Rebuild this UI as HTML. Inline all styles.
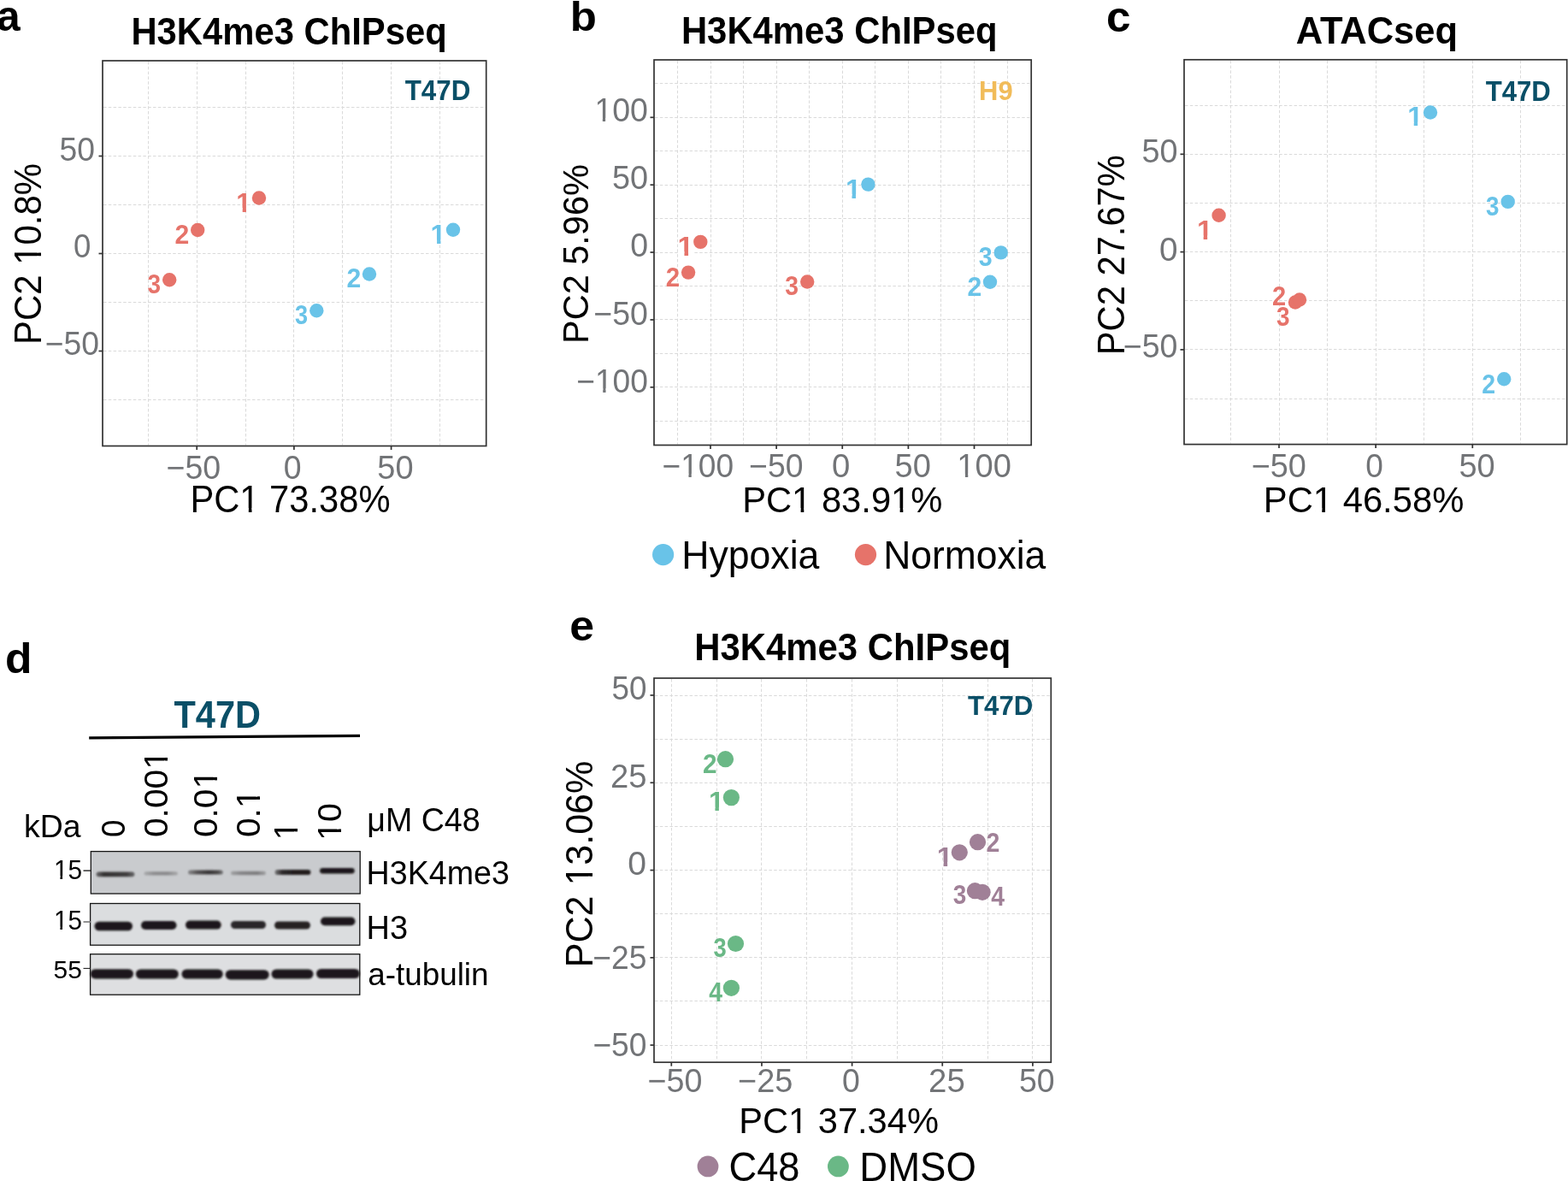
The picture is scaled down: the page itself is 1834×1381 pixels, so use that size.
<!DOCTYPE html><html><head><meta charset="utf-8"><title>Figure</title><style>html,body{margin:0;padding:0;background:#fff;overflow:hidden;}svg{display:block;}text{font-family:"Liberation Sans", Arial, Helvetica, sans-serif;}.g{stroke:#DADADA;stroke-width:1;stroke-dasharray:3.5 2.3;fill:none;}.fr{fill:none;stroke:#333333;stroke-width:1.7;}.tk{stroke:#333333;stroke-width:1.7;}</style></head><body>
<svg width="1834" height="1381" viewBox="0 0 1834 1381">
<rect width="1834" height="1381" fill="#fff"/>
<defs><filter id="bl" x="-20%" y="-100%" width="140%" height="300%"><feGaussianBlur stdDeviation="1.6"/></filter><filter id="bl2" x="-20%" y="-100%" width="140%" height="300%"><feGaussianBlur stdDeviation="1.2"/></filter><filter id="bl3" x="-20%" y="-100%" width="140%" height="300%"><feGaussianBlur stdDeviation="0.8"/></filter></defs>
<line x1="173.5" y1="72" x2="173.5" y2="520.5" class="g"/>
<line x1="230.5" y1="72" x2="230.5" y2="520.5" class="g"/>
<line x1="287.5" y1="72" x2="287.5" y2="520.5" class="g"/>
<line x1="343.5" y1="72" x2="343.5" y2="520.5" class="g"/>
<line x1="400.5" y1="72" x2="400.5" y2="520.5" class="g"/>
<line x1="457.5" y1="72" x2="457.5" y2="520.5" class="g"/>
<line x1="514.5" y1="72" x2="514.5" y2="520.5" class="g"/>
<line x1="121" y1="467.5" x2="567.7" y2="467.5" class="g"/>
<line x1="121" y1="410.5" x2="567.7" y2="410.5" class="g"/>
<line x1="121" y1="353.5" x2="567.7" y2="353.5" class="g"/>
<line x1="121" y1="296.5" x2="567.7" y2="296.5" class="g"/>
<line x1="121" y1="239.5" x2="567.7" y2="239.5" class="g"/>
<line x1="121" y1="182.5" x2="567.7" y2="182.5" class="g"/>
<line x1="121" y1="125.5" x2="567.7" y2="125.5" class="g"/>
<rect x="120" y="71" width="448.7" height="450.5" class="fr"/>
<line x1="230.22" y1="521.5" x2="230.22" y2="526" class="tk"/>
<line x1="343.9" y1="521.5" x2="343.9" y2="526" class="tk"/>
<line x1="457.57" y1="521.5" x2="457.57" y2="526" class="tk"/>
<line x1="115.5" y1="182.5" x2="120" y2="182.5" class="tk"/>
<line x1="115.5" y1="296.5" x2="120" y2="296.5" class="tk"/>
<line x1="115.5" y1="410.5" x2="120" y2="410.5" class="tk"/>
<line x1="792.5" y1="71" x2="792.5" y2="519.5" class="g"/>
<line x1="831.5" y1="71" x2="831.5" y2="519.5" class="g"/>
<line x1="869.5" y1="71" x2="869.5" y2="519.5" class="g"/>
<line x1="908.5" y1="71" x2="908.5" y2="519.5" class="g"/>
<line x1="946.5" y1="71" x2="946.5" y2="519.5" class="g"/>
<line x1="985.5" y1="71" x2="985.5" y2="519.5" class="g"/>
<line x1="1023.5" y1="71" x2="1023.5" y2="519.5" class="g"/>
<line x1="1062.5" y1="71" x2="1062.5" y2="519.5" class="g"/>
<line x1="1100.5" y1="71" x2="1100.5" y2="519.5" class="g"/>
<line x1="1139.5" y1="71" x2="1139.5" y2="519.5" class="g"/>
<line x1="1178.5" y1="71" x2="1178.5" y2="519.5" class="g"/>
<line x1="766" y1="492.5" x2="1205.2" y2="492.5" class="g"/>
<line x1="766" y1="452.5" x2="1205.2" y2="452.5" class="g"/>
<line x1="766" y1="413.5" x2="1205.2" y2="413.5" class="g"/>
<line x1="766" y1="373.5" x2="1205.2" y2="373.5" class="g"/>
<line x1="766" y1="334.5" x2="1205.2" y2="334.5" class="g"/>
<line x1="766" y1="295.5" x2="1205.2" y2="295.5" class="g"/>
<line x1="766" y1="255.5" x2="1205.2" y2="255.5" class="g"/>
<line x1="766" y1="216.5" x2="1205.2" y2="216.5" class="g"/>
<line x1="766" y1="176.5" x2="1205.2" y2="176.5" class="g"/>
<line x1="766" y1="137.5" x2="1205.2" y2="137.5" class="g"/>
<line x1="766" y1="97.5" x2="1205.2" y2="97.5" class="g"/>
<rect x="765" y="70" width="441.2" height="450.5" class="fr"/>
<line x1="831" y1="520.5" x2="831" y2="525" class="tk"/>
<line x1="908.12" y1="520.5" x2="908.12" y2="525" class="tk"/>
<line x1="985.25" y1="520.5" x2="985.25" y2="525" class="tk"/>
<line x1="1062.38" y1="520.5" x2="1062.38" y2="525" class="tk"/>
<line x1="1139.5" y1="520.5" x2="1139.5" y2="525" class="tk"/>
<line x1="760.5" y1="137.3" x2="765" y2="137.3" class="tk"/>
<line x1="760.5" y1="216.18" x2="765" y2="216.18" class="tk"/>
<line x1="760.5" y1="295.05" x2="765" y2="295.05" class="tk"/>
<line x1="760.5" y1="373.93" x2="765" y2="373.93" class="tk"/>
<line x1="760.5" y1="452.8" x2="765" y2="452.8" class="tk"/>
<line x1="1439.5" y1="70.8" x2="1439.5" y2="518.6" class="g"/>
<line x1="1496.5" y1="70.8" x2="1496.5" y2="518.6" class="g"/>
<line x1="1552.5" y1="70.8" x2="1552.5" y2="518.6" class="g"/>
<line x1="1609.5" y1="70.8" x2="1609.5" y2="518.6" class="g"/>
<line x1="1665.5" y1="70.8" x2="1665.5" y2="518.6" class="g"/>
<line x1="1722.5" y1="70.8" x2="1722.5" y2="518.6" class="g"/>
<line x1="1778.5" y1="70.8" x2="1778.5" y2="518.6" class="g"/>
<line x1="1386" y1="466.5" x2="1831.7" y2="466.5" class="g"/>
<line x1="1386" y1="408.5" x2="1831.7" y2="408.5" class="g"/>
<line x1="1386" y1="351.5" x2="1831.7" y2="351.5" class="g"/>
<line x1="1386" y1="294.5" x2="1831.7" y2="294.5" class="g"/>
<line x1="1386" y1="237.5" x2="1831.7" y2="237.5" class="g"/>
<line x1="1386" y1="180.5" x2="1831.7" y2="180.5" class="g"/>
<line x1="1386" y1="123.5" x2="1831.7" y2="123.5" class="g"/>
<rect x="1385" y="69.8" width="447.7" height="449.8" class="fr"/>
<line x1="1496" y1="519.6" x2="1496" y2="524.1" class="tk"/>
<line x1="1609.15" y1="519.6" x2="1609.15" y2="524.1" class="tk"/>
<line x1="1722.3" y1="519.6" x2="1722.3" y2="524.1" class="tk"/>
<line x1="1380.5" y1="180.33" x2="1385" y2="180.33" class="tk"/>
<line x1="1380.5" y1="294.6" x2="1385" y2="294.6" class="tk"/>
<line x1="1380.5" y1="408.88" x2="1385" y2="408.88" class="tk"/>
<line x1="785.5" y1="794" x2="785.5" y2="1241.2" class="g"/>
<line x1="838.5" y1="794" x2="838.5" y2="1241.2" class="g"/>
<line x1="890.5" y1="794" x2="890.5" y2="1241.2" class="g"/>
<line x1="943.5" y1="794" x2="943.5" y2="1241.2" class="g"/>
<line x1="996.5" y1="794" x2="996.5" y2="1241.2" class="g"/>
<line x1="1049.5" y1="794" x2="1049.5" y2="1241.2" class="g"/>
<line x1="1102.5" y1="794" x2="1102.5" y2="1241.2" class="g"/>
<line x1="1155.5" y1="794" x2="1155.5" y2="1241.2" class="g"/>
<line x1="1207.5" y1="794" x2="1207.5" y2="1241.2" class="g"/>
<line x1="766" y1="1222.5" x2="1228.3" y2="1222.5" class="g"/>
<line x1="766" y1="1170.5" x2="1228.3" y2="1170.5" class="g"/>
<line x1="766" y1="1119.5" x2="1228.3" y2="1119.5" class="g"/>
<line x1="766" y1="1068.5" x2="1228.3" y2="1068.5" class="g"/>
<line x1="766" y1="1017.5" x2="1228.3" y2="1017.5" class="g"/>
<line x1="766" y1="966.5" x2="1228.3" y2="966.5" class="g"/>
<line x1="766" y1="915.5" x2="1228.3" y2="915.5" class="g"/>
<line x1="766" y1="864.5" x2="1228.3" y2="864.5" class="g"/>
<line x1="766" y1="813.5" x2="1228.3" y2="813.5" class="g"/>
<rect x="765" y="793" width="464.3" height="449.2" class="fr"/>
<line x1="785.3" y1="1242.2" x2="785.3" y2="1246.7" class="tk"/>
<line x1="890.95" y1="1242.2" x2="890.95" y2="1246.7" class="tk"/>
<line x1="996.6" y1="1242.2" x2="996.6" y2="1246.7" class="tk"/>
<line x1="1102.25" y1="1242.2" x2="1102.25" y2="1246.7" class="tk"/>
<line x1="1207.9" y1="1242.2" x2="1207.9" y2="1246.7" class="tk"/>
<line x1="760.5" y1="813" x2="765" y2="813" class="tk"/>
<line x1="760.5" y1="915.27" x2="765" y2="915.27" class="tk"/>
<line x1="760.5" y1="1017.55" x2="765" y2="1017.55" class="tk"/>
<line x1="760.5" y1="1119.83" x2="765" y2="1119.83" class="tk"/>
<line x1="760.5" y1="1222.1" x2="765" y2="1222.1" class="tk"/>
<text transform="translate(-4.02,35.79) scale(0.9800,1)" font-size="50.73" font-weight="bold" fill="#000">a</text>
<text transform="translate(666.73,35.52) scale(1.0558,1)" font-size="48.3" font-weight="bold" fill="#000">b</text>
<text transform="translate(1294,36.7) scale(1.0209,1)" font-size="50.18" font-weight="bold" fill="#000">c</text>
<text transform="translate(6.08,787) scale(1.0248,1)" font-size="50.34" font-weight="bold" fill="#000">d</text>
<text transform="translate(666.18,749.3) scale(1.0390,1)" font-size="49.82" font-weight="bold" fill="#000">e</text>
<text transform="translate(153.4,51.6) scale(0.9610,1)" font-size="43.5" font-weight="bold" fill="#000">H3K4me3 ChIPseq</text>
<text transform="translate(796.9,51.2) scale(0.9620,1)" font-size="43.5" font-weight="bold" fill="#000">H3K4me3 ChIPseq</text>
<text transform="translate(1515.71,50.9)" font-size="43.5" font-weight="bold" fill="#000">ATACseq</text>
<text transform="translate(812.29,771.9) scale(0.9628,1)" font-size="43.5" font-weight="bold" fill="#000">H3K4me3 ChIPseq</text>
<text transform="translate(473.66,117) scale(0.9588,1)" font-size="32.7" font-weight="bold" fill="#0A4F67">T47D</text>
<text transform="translate(1145.02,117.28) scale(0.9628,1)" font-size="32.2" font-weight="bold" fill="#F1BC5A">H9</text>
<text transform="translate(1737.66,117.5) scale(0.9524,1)" font-size="32.7" font-weight="bold" fill="#0A4F67">T47D</text>
<text transform="translate(1131.96,835.6) scale(0.9735,1)" font-size="32.12" font-weight="bold" fill="#0A4F67">T47D</text>
<text transform="translate(69.51,187.61) scale(0.9595,1)" font-size="38.84" fill="#727477">50</text>
<text transform="translate(86.07,301.41) scale(0.9495,1)" font-size="38.56" fill="#727477">0</text>
<text transform="translate(52.67,415.41) scale(0.9607,1)" font-size="38.84" fill="#727477">−50</text>
<text transform="translate(194.56,559.91) scale(0.9741,1)" font-size="38.56" fill="#727477">−50</text>
<text transform="translate(331.84,559.91) scale(0.9712,1)" font-size="38.56" fill="#727477">0</text>
<text transform="translate(441.28,559.91) scale(0.9841,1)" font-size="38.56" fill="#727477">50</text>
<g transform="translate(695.4,142.31) scale(0.9587,1)"><text font-size="39.12" fill="#727477">100</text>
<rect x="2.07" y="-4.37" width="7.75" height="5.37" fill="#fff"/>
<rect x="13.26" y="-4.37" width="7.47" height="5.37" fill="#fff"/>
</g>
<text transform="translate(715.89,221.41) scale(0.9816,1)" font-size="38.56" fill="#727477">50</text>
<text transform="translate(737.14,300.11) scale(0.9712,1)" font-size="38.56" fill="#727477">0</text>
<text transform="translate(694.36,380.11) scale(0.9725,1)" font-size="38.56" fill="#727477">−50</text>
<g transform="translate(674.18,458.51) scale(0.9647,1)"><text font-size="38.56" fill="#727477">−100</text>
<rect x="24.55" y="-4.33" width="7.65" height="5.33" fill="#fff"/>
<rect x="35.59" y="-4.33" width="7.38" height="5.33" fill="#fff"/>
</g>
<g transform="translate(774.48,558.41) scale(0.9623,1)"><text font-size="38.56" fill="#727477">−100</text>
<rect x="24.55" y="-4.33" width="7.65" height="5.33" fill="#fff"/>
<rect x="35.59" y="-4.33" width="7.38" height="5.33" fill="#fff"/>
</g>
<text transform="translate(876.07,558.41) scale(0.9693,1)" font-size="38.56" fill="#727477">−50</text>
<text transform="translate(973.01,558.41) scale(0.9929,1)" font-size="38.56" fill="#727477">0</text>
<text transform="translate(1046.48,558.41) scale(0.9866,1)" font-size="38.56" fill="#727477">50</text>
<g transform="translate(1119.34,558.41) scale(0.9880,1)"><text font-size="38.56" fill="#727477">100</text>
<rect x="2.03" y="-4.33" width="7.65" height="5.33" fill="#fff"/>
<rect x="13.07" y="-4.33" width="7.38" height="5.33" fill="#fff"/>
</g>
<text transform="translate(1335.39,190.41) scale(0.9816,1)" font-size="38.56" fill="#727477">50</text>
<text transform="translate(1355.99,304.51) scale(1.0037,1)" font-size="38.56" fill="#727477">0</text>
<text transform="translate(1313.76,418.41) scale(0.9741,1)" font-size="38.56" fill="#727477">−50</text>
<text transform="translate(1463.64,557.51) scale(0.9822,1)" font-size="38.56" fill="#727477">−50</text>
<text transform="translate(1597.16,557.51) scale(0.9603,1)" font-size="38.56" fill="#727477">0</text>
<text transform="translate(1706.48,557.51) scale(0.9841,1)" font-size="38.56" fill="#727477">50</text>
<text transform="translate(715.53,817.91) scale(0.9540,1)" font-size="38.56" fill="#727477">50</text>
<text transform="translate(714.09,920.51) scale(0.9916,1)" font-size="38.56" fill="#727477">25</text>
<text transform="translate(734.27,1022.81) scale(1.0146,1)" font-size="38.56" fill="#727477">0</text>
<text transform="translate(693.37,1133.41) scale(0.9663,1)" font-size="38.56" fill="#727477">−25</text>
<text transform="translate(693.38,1235.41) scale(0.9645,1)" font-size="38.56" fill="#727477">−50</text>
<text transform="translate(757.55,1277.21) scale(0.9667,1)" font-size="38.98" fill="#727477">−50</text>
<text transform="translate(863.04,1277.21) scale(0.9733,1)" font-size="38.98" fill="#727477">−25</text>
<text transform="translate(984.94,1277.21) scale(0.9606,1)" font-size="38.98" fill="#727477">0</text>
<text transform="translate(1086.08,1277.21) scale(0.9858,1)" font-size="38.98" fill="#727477">25</text>
<text transform="translate(1192,1277.21) scale(0.9610,1)" font-size="38.98" fill="#727477">50</text>
<g transform="translate(222.38,598.86) scale(0.9560,1)"><text font-size="43.64" fill="#000">PC1 73.38%</text>
<rect x="63.05" y="-4.72" width="8.54" height="5.72" fill="#fff"/>
<rect x="75.42" y="-4.72" width="8.23" height="5.72" fill="#fff"/>
</g>
<g transform="translate(868.18,598.87) scale(0.9686,1)"><text font-size="43.08" fill="#000">PC1 83.91%</text>
<rect x="62.22" y="-4.67" width="8.44" height="5.67" fill="#fff"/>
<rect x="74.45" y="-4.67" width="8.14" height="5.67" fill="#fff"/>
<rect x="181.99" y="-4.67" width="8.44" height="5.67" fill="#fff"/>
<rect x="194.22" y="-4.67" width="8.14" height="5.67" fill="#fff"/>
</g>
<g transform="translate(1477.77,598.87) scale(0.9730,1)"><text font-size="42.94" fill="#000">PC1 46.58%</text>
<rect x="62.01" y="-4.66" width="8.41" height="5.66" fill="#fff"/>
<rect x="74.2" y="-4.66" width="8.11" height="5.66" fill="#fff"/>
</g>
<g transform="translate(864.19,1325.17) scale(0.9728,1)"><text font-size="42.8" fill="#000">PC1 37.34%</text>
<rect x="61.8" y="-4.65" width="8.39" height="5.65" fill="#fff"/>
<rect x="73.96" y="-4.65" width="8.09" height="5.65" fill="#fff"/>
</g>
<g transform="translate(48.36,402.94) rotate(-90) scale(0.9451,1)"><text font-size="44.35" fill="#000">PC2 10.8%</text>
<rect x="101.07" y="-4.77" width="8.66" height="5.77" fill="#fff"/>
<rect x="113.63" y="-4.77" width="8.35" height="5.77" fill="#fff"/>
</g>
<text transform="translate(688.17,402) rotate(-90) scale(0.9695,1)" font-size="42.8" fill="#000">PC2 5.96%</text>
<text transform="translate(1315.16,415.22) rotate(-90) scale(0.9370,1)" font-size="44.49" fill="#000">PC2 27.67%</text>
<g transform="translate(692.96,1131.13) rotate(-90) scale(0.9757,1)"><text font-size="44.07" fill="#000">PC2 13.06%</text>
<rect x="100.42" y="-4.75" width="8.61" height="5.75" fill="#fff"/>
<rect x="112.91" y="-4.75" width="8.3" height="5.75" fill="#fff"/>
</g>
<text transform="translate(797.24,665.2) scale(0.9531,1)" font-size="46.8" fill="#000">Hypoxia</text>
<text transform="translate(1033.16,664.8) scale(0.9495,1)" font-size="46.8" fill="#000">Normoxia</text>
<text transform="translate(852.49,1380.5) scale(0.9534,1)" font-size="47.5" fill="#000">C48</text>
<text transform="translate(1005.27,1380.5) scale(0.9587,1)" font-size="47.5" fill="#000">DMSO</text>
<g transform="translate(276.37,247.78) scale(1.0246,1)"><text font-size="30.6" font-weight="bold" fill="#E6736A">1</text>
<rect x="1.03" y="-4.64" width="6.1" height="5.64" fill="#fff"/>
<rect x="11.32" y="-4.64" width="5.73" height="5.64" fill="#fff"/>
</g>
<text transform="translate(204.44,285.18) scale(0.9851,1)" font-size="30.6" font-weight="bold" fill="#E6736A">2</text>
<text transform="translate(172.46,343.21) scale(0.9140,1)" font-size="30.6" font-weight="bold" fill="#E6736A">3</text>
<g transform="translate(503.62,285.03) scale(1.0462,1)"><text font-size="30.6" font-weight="bold" fill="#69C3E8">1</text>
<rect x="1.03" y="-4.64" width="6.1" height="5.64" fill="#fff"/>
<rect x="11.32" y="-4.64" width="5.73" height="5.64" fill="#fff"/>
</g>
<text transform="translate(405.44,336.43) scale(0.9851,1)" font-size="30.6" font-weight="bold" fill="#69C3E8">2</text>
<text transform="translate(344.88,379.26) scale(0.8877,1)" font-size="30.6" font-weight="bold" fill="#69C3E8">3</text>
<g transform="translate(792.61,298.88) scale(1.1001,1)"><text font-size="30.6" font-weight="bold" fill="#E6736A">1</text>
<rect x="1.03" y="-4.64" width="6.1" height="5.64" fill="#fff"/>
<rect x="11.32" y="-4.64" width="5.73" height="5.64" fill="#fff"/>
</g>
<text transform="translate(778.77,334.73) scale(0.9648,1)" font-size="30.6" font-weight="bold" fill="#E6736A">2</text>
<text transform="translate(918.25,345.16) scale(0.9271,1)" font-size="30.6" font-weight="bold" fill="#E6736A">3</text>
<g transform="translate(988.88,231.53) scale(1.0678,1)"><text font-size="30.6" font-weight="bold" fill="#69C3E8">1</text>
<rect x="1.03" y="-4.64" width="6.1" height="5.64" fill="#fff"/>
<rect x="11.32" y="-4.64" width="5.73" height="5.64" fill="#fff"/>
</g>
<text transform="translate(1144.64,311.36) scale(0.9337,1)" font-size="30.6" font-weight="bold" fill="#69C3E8">3</text>
<text transform="translate(1131.54,345.58) scale(0.9851,1)" font-size="30.6" font-weight="bold" fill="#69C3E8">2</text>
<g transform="translate(1399.96,280.13) scale(1.0785,1)"><text font-size="30.6" font-weight="bold" fill="#E6736A">1</text>
<rect x="1.03" y="-4.64" width="6.1" height="5.64" fill="#fff"/>
<rect x="11.32" y="-4.64" width="5.73" height="5.64" fill="#fff"/>
</g>
<text transform="translate(1487.98,357.08) scale(0.9512,1)" font-size="30.6" font-weight="bold" fill="#E6736A">2</text>
<text transform="translate(1493.06,381.26) scale(0.9140,1)" font-size="30.6" font-weight="bold" fill="#E6736A">3</text>
<g transform="translate(1646.2,147.38) scale(1.0570,1)"><text font-size="30.6" font-weight="bold" fill="#69C3E8">1</text>
<rect x="1.03" y="-4.64" width="6.1" height="5.64" fill="#fff"/>
<rect x="11.32" y="-4.64" width="5.73" height="5.64" fill="#fff"/>
</g>
<text transform="translate(1738.06,252.06) scale(0.9074,1)" font-size="30.6" font-weight="bold" fill="#69C3E8">3</text>
<text transform="translate(1733.3,459.63) scale(0.9308,1)" font-size="30.6" font-weight="bold" fill="#69C3E8">2</text>
<text transform="translate(821.96,903.63) scale(0.9716,1)" font-size="30.6" font-weight="bold" fill="#6AB886">2</text>
<g transform="translate(828.9,948.38) scale(1.0570,1)"><text font-size="30.6" font-weight="bold" fill="#6AB886">1</text>
<rect x="1.03" y="-4.64" width="6.1" height="5.64" fill="#fff"/>
<rect x="11.32" y="-4.64" width="5.73" height="5.64" fill="#fff"/>
</g>
<text transform="translate(834.47,1119.31) scale(0.8943,1)" font-size="30.6" font-weight="bold" fill="#6AB886">3</text>
<text transform="translate(829.27,1170.93) scale(0.9267,1)" font-size="30.6" font-weight="bold" fill="#6AB886">4</text>
<g transform="translate(1095.71,1012.58) scale(1.1001,1)"><text font-size="30.6" font-weight="bold" fill="#A08097">1</text>
<rect x="1.03" y="-4.64" width="6.1" height="5.64" fill="#fff"/>
<rect x="11.32" y="-4.64" width="5.73" height="5.64" fill="#fff"/>
</g>
<text transform="translate(1153.4,996.38) scale(0.9308,1)" font-size="30.6" font-weight="bold" fill="#A08097">2</text>
<text transform="translate(1114.86,1057.36) scale(0.9140,1)" font-size="30.6" font-weight="bold" fill="#A08097">3</text>
<text transform="translate(1159.27,1059.18) scale(0.9267,1)" font-size="30.6" font-weight="bold" fill="#A08097">4</text>
<circle cx="303" cy="231.5" r="8.2" fill="#E6736A"/>
<circle cx="231.2" cy="269" r="8.2" fill="#E6736A"/>
<circle cx="198.2" cy="327.3" r="8.2" fill="#E6736A"/>
<circle cx="530" cy="268.8" r="8.2" fill="#69C3E8"/>
<circle cx="432" cy="320.5" r="8.2" fill="#69C3E8"/>
<circle cx="370.3" cy="363.2" r="8.2" fill="#69C3E8"/>
<circle cx="819.3" cy="282.9" r="8.2" fill="#E6736A"/>
<circle cx="805.1" cy="318.6" r="8.2" fill="#E6736A"/>
<circle cx="944.2" cy="329.5" r="8.2" fill="#E6736A"/>
<circle cx="1015.4" cy="215.6" r="8.2" fill="#69C3E8"/>
<circle cx="1158" cy="329.7" r="8.2" fill="#69C3E8"/>
<circle cx="1170.7" cy="295.4" r="8.2" fill="#69C3E8"/>
<circle cx="1425.6" cy="251.7" r="8.2" fill="#E6736A"/>
<circle cx="1515" cy="353.5" r="8.2" fill="#E6736A"/>
<circle cx="1520" cy="350.5" r="8.2" fill="#E6736A"/>
<circle cx="1673" cy="131.5" r="8.2" fill="#69C3E8"/>
<circle cx="1759.2" cy="443.3" r="8.2" fill="#69C3E8"/>
<circle cx="1763.7" cy="235.9" r="8.2" fill="#69C3E8"/>
<circle cx="855.4" cy="932.6" r="9.6" fill="#6AB886"/>
<circle cx="848.5" cy="887.7" r="9.6" fill="#6AB886"/>
<circle cx="860.5" cy="1103.5" r="9.6" fill="#6AB886"/>
<circle cx="855.4" cy="1155.3" r="9.6" fill="#6AB886"/>
<circle cx="1122.3" cy="996.8" r="9.6" fill="#A08097"/>
<circle cx="1143.5" cy="984.7" r="9.6" fill="#A08097"/>
<circle cx="1140.4" cy="1041.7" r="9.6" fill="#A08097"/>
<circle cx="1149.1" cy="1043.3" r="9.6" fill="#A08097"/>
<circle cx="775.6" cy="648.6" r="12.6" fill="#69C3E8"/>
<circle cx="1012.5" cy="648.6" r="12.6" fill="#E6736A"/>
<circle cx="828" cy="1363.9" r="12.4" fill="#A08097"/>
<circle cx="980.4" cy="1363.9" r="12.4" fill="#6AB886"/>
<text transform="translate(203.44,850.6) scale(0.9334,1)" font-size="44.48" font-weight="bold" fill="#0A4F67">T47D</text>
<line x1="104.2" y1="862.9" x2="421" y2="860.3" stroke="#000" stroke-width="3.3"/>
<text transform="translate(27.99,978.93)" font-size="37.41" fill="#000">kDa</text>
<text transform="translate(429.28,972) scale(0.9687,1)" font-size="38.8" fill="#000">μM C48</text>
<text transform="translate(146.37,978.93) rotate(-90) scale(0.9316,1)" font-size="39.3" fill="#000">0</text>
<g transform="translate(196.37,979.09) rotate(-90) scale(1.0373,1)"><text font-size="39.3" fill="#000">0.001</text>
<rect x="78.58" y="-4.39" width="7.78" height="5.39" fill="#fff"/>
<rect x="89.81" y="-4.39" width="7.5" height="5.39" fill="#fff"/>
</g>
<g transform="translate(254.17,979.08) rotate(-90) scale(1.0338,1)"><text font-size="39.3" fill="#000">0.01</text>
<rect x="56.72" y="-4.39" width="7.78" height="5.39" fill="#fff"/>
<rect x="67.96" y="-4.39" width="7.5" height="5.39" fill="#fff"/>
</g>
<g transform="translate(303.67,979.09) rotate(-90) scale(1.0357,1)"><text font-size="39.3" fill="#000">0.1</text>
<rect x="34.86" y="-4.39" width="7.78" height="5.39" fill="#fff"/>
<rect x="46.1" y="-4.39" width="7.5" height="5.39" fill="#fff"/>
</g>
<g transform="translate(348.47,982.27) rotate(-90)"><text font-size="39.3" fill="#000">1</text>
<rect x="2.09" y="-4.39" width="7.78" height="5.39" fill="#fff"/>
<rect x="13.32" y="-4.39" width="7.5" height="5.39" fill="#fff"/>
</g>
<g transform="translate(398.62,982.82) rotate(-90)"><text font-size="39.3" fill="#000">10</text>
<rect x="2.09" y="-4.39" width="7.78" height="5.39" fill="#fff"/>
<rect x="13.32" y="-4.39" width="7.5" height="5.39" fill="#fff"/>
</g>
<rect x="106.3" y="995.6" width="314.9" height="49.4" fill="#C9CBCE"/>
<g filter="url(#bl2)">
<defs><linearGradient id="gr0" x1="0" x2="1" y1="0" y2="0"><stop offset="0" stop-color="#6a6a6c"/><stop offset="0.2" stop-color="#333132"/><stop offset="0.55" stop-color="#3a3839"/><stop offset="0.8" stop-color="#403e3f"/><stop offset="1" stop-color="#6a6a6c"/></linearGradient></defs>
<rect x="112.5" y="1019.4" width="44.9" height="5.8" rx="2.9" ry="2.9" fill="url(#gr0)"/>
<defs><linearGradient id="gr1" x1="0" x2="1" y1="0" y2="0"><stop offset="0" stop-color="#a9aaac"/><stop offset="0.3" stop-color="#8c8c8e"/><stop offset="0.7" stop-color="#8a8a8c"/><stop offset="1" stop-color="#a9aaac"/></linearGradient></defs>
<rect x="168.5" y="1019.2" width="39.5" height="4.4" rx="2.2" ry="2.2" fill="url(#gr1)"/>
<defs><linearGradient id="gr2" x1="0" x2="1" y1="0" y2="0"><stop offset="0" stop-color="#8a8a8c"/><stop offset="0.25" stop-color="#555354"/><stop offset="0.6" stop-color="#363435"/><stop offset="0.85" stop-color="#4a4849"/><stop offset="1" stop-color="#7a7a7c"/></linearGradient></defs>
<rect x="220" y="1017.4" width="40.8" height="5.2" rx="2.6" ry="2.6" fill="url(#gr2)"/>
<defs><linearGradient id="gr3" x1="0" x2="1" y1="0" y2="0"><stop offset="0" stop-color="#a0a1a3"/><stop offset="0.3" stop-color="#858587"/><stop offset="0.75" stop-color="#7d7d7f"/><stop offset="1" stop-color="#a0a1a3"/></linearGradient></defs>
<rect x="270" y="1018.8" width="41" height="4.4" rx="2.2" ry="2.2" fill="url(#gr3)"/>
<defs><linearGradient id="gr4" x1="0" x2="1" y1="0" y2="0"><stop offset="0" stop-color="#7a7a7c"/><stop offset="0.2" stop-color="#2f2b2c"/><stop offset="0.5" stop-color="#221e1f"/><stop offset="1" stop-color="#221e1f"/></linearGradient></defs>
<rect x="321.5" y="1016.9" width="41.9" height="6.2" rx="3.1" ry="3.1" fill="url(#gr4)"/>
<defs><linearGradient id="gr5" x1="0" x2="1" y1="0" y2="0"><stop offset="0" stop-color="#2a2627"/><stop offset="0.1" stop-color="#1d191a"/><stop offset="0.9" stop-color="#1d191a"/><stop offset="1" stop-color="#2a2627"/></linearGradient></defs>
<rect x="374" y="1015" width="40.8" height="6.4" rx="3.2" ry="3.2" fill="url(#gr5)"/>
</g>
<rect x="106.3" y="995.6" width="314.9" height="49.4" fill="none" stroke="#151515" stroke-width="1.3"/>
<rect x="105.6" y="1056.5" width="315.2" height="48.7" fill="#DBDDDF"/>
<g filter="url(#bl3)">
<rect x="110.5" y="1077.8" width="44.5" height="10.4" rx="5.2" ry="5.2" fill="#1d191a"/>
<rect x="165" y="1077" width="41.5" height="10" rx="5" ry="5" fill="#1d191a"/>
<rect x="217" y="1076.6" width="41.7" height="10" rx="5" ry="5" fill="#1d191a"/>
<rect x="270" y="1077" width="41" height="9" rx="4.5" ry="4.5" fill="#2b2829"/>
<rect x="321" y="1077.4" width="42" height="9.2" rx="4.6" ry="4.6" fill="#252122"/>
<rect x="375" y="1072.6" width="40.5" height="9.6" rx="4.8" ry="4.8" fill="#1d191a"/>
</g>
<rect x="105.6" y="1056.5" width="315.2" height="48.7" fill="none" stroke="#151515" stroke-width="1.3"/>
<rect x="105.6" y="1115.7" width="315.2" height="47.5" fill="#DEDFE1"/>
<g filter="url(#bl3)">
<rect x="105.6" y="1133.2" width="50.4" height="11.2" rx="5.6" ry="5.6" fill="#1d191a"/>
<rect x="158.8" y="1133.4" width="50" height="11.2" rx="5.6" ry="5.6" fill="#1d191a"/>
<rect x="212.5" y="1133.4" width="48.2" height="11.2" rx="5.6" ry="5.6" fill="#1d191a"/>
<rect x="263.7" y="1134.2" width="51" height="11.2" rx="5.6" ry="5.6" fill="#1d191a"/>
<rect x="317.5" y="1133.4" width="49" height="11.2" rx="5.6" ry="5.6" fill="#1d191a"/>
<rect x="370" y="1132.9" width="50.8" height="11.2" rx="5.6" ry="5.6" fill="#1d191a"/>
</g>
<rect x="105.6" y="1115.7" width="315.2" height="47.5" fill="none" stroke="#151515" stroke-width="1.3"/>
<line x1="97.5" y1="1018.1" x2="106" y2="1018.1" stroke="#222" stroke-width="1.4"/>
<line x1="97.5" y1="1078" x2="106" y2="1078" stroke="#777" stroke-width="1.6"/>
<line x1="97.5" y1="1132.4" x2="106" y2="1132.4" stroke="#222" stroke-width="1.1"/>
<g transform="translate(62.93,1027.89) scale(0.9791,1)"><text font-size="30.52" fill="#000">15</text>
<rect x="1.42" y="-3.72" width="6.24" height="4.72" fill="#fff"/>
<rect x="10.34" y="-3.72" width="6.03" height="4.72" fill="#fff"/>
</g>
<g transform="translate(62.95,1087.39) scale(0.9544,1)"><text font-size="31.09" fill="#000">15</text>
<rect x="1.46" y="-3.76" width="6.34" height="4.76" fill="#fff"/>
<rect x="10.54" y="-3.76" width="6.12" height="4.76" fill="#fff"/>
</g>
<text transform="translate(62.6,1143.6) scale(0.9939,1)" font-size="30.09" fill="#000">55</text>
<text transform="translate(428.62,1034.21) scale(0.9753,1)" font-size="38.56" fill="#000">H3K4me3</text>
<text transform="translate(428.59,1097.81) scale(0.9766,1)" font-size="38.84" fill="#000">H3</text>
<text transform="translate(430.15,1152.23)" font-size="36.87" fill="#000">a-tubulin</text>
</svg></body></html>
